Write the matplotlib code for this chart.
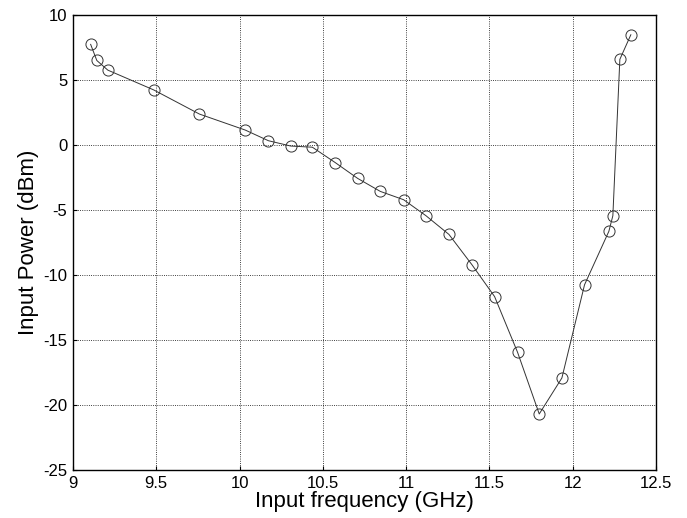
import matplotlib
matplotlib.use("Agg")
import matplotlib.pyplot as plt

freq = [9.106, 9.143, 9.209, 9.484, 9.759, 10.034, 10.173, 10.307, 10.437,
        10.574, 10.709, 10.845, 10.985, 11.119, 11.257, 11.395, 11.531,
        11.669, 11.799, 11.935, 12.071, 12.217, 12.241, 12.283, 12.349]
power = [7.74, 6.50, 5.76, 4.24, 2.38, 1.15, 0.33, -0.08, -0.17,
         -1.35, -2.57, -3.57, -4.21, -5.44, -6.88, -9.21, -11.66,
         -15.95, -20.69, -17.92, -10.75, -6.64, -5.44, 6.59, 8.48]
xticks = [9, 9.5, 10, 10.5, 11, 11.5, 12, 12.5]
xticklabels = ["9", "9.5", "10", "10.5", "11", "11.5", "12", "12.5"]
yticks = [-25, -20, -15, -10, -5, 0, 5, 10]

plt.rcParams['font.family'] = ['Liberation Sans', 'DejaVu Sans']
plt.rcParams['axes.unicode_minus'] = False

fig = plt.figure(figsize=(6.87, 5.18), dpi=100)
ax = fig.add_axes([73/687, 1-470/518, (656-73)/687, (470-15)/518])

ax.plot(freq, power, '-', color='#333333', linewidth=0.7,
        marker='o', markersize=8, markerfacecolor='none',
        markeredgecolor='#333333', markeredgewidth=0.7)

ax.set_xlim(9, 12.5)
ax.set_ylim(-25, 10)
ax.set_xticks(xticks)
ax.set_xticklabels(xticklabels)
ax.set_yticks(yticks)
ax.grid(True, linestyle=':', color='black', linewidth=0.6)
ax.tick_params(direction='in', length=3, labelsize=12, pad=4)
for s in ax.spines.values():
    s.set_linewidth(1.0)
ax.set_xlabel("Input frequency (GHz)", fontsize=16, labelpad=0)
ax.set_ylabel("Input Power (dBm)", fontsize=16, labelpad=3)

fig.savefig("out.png", dpi=100)
